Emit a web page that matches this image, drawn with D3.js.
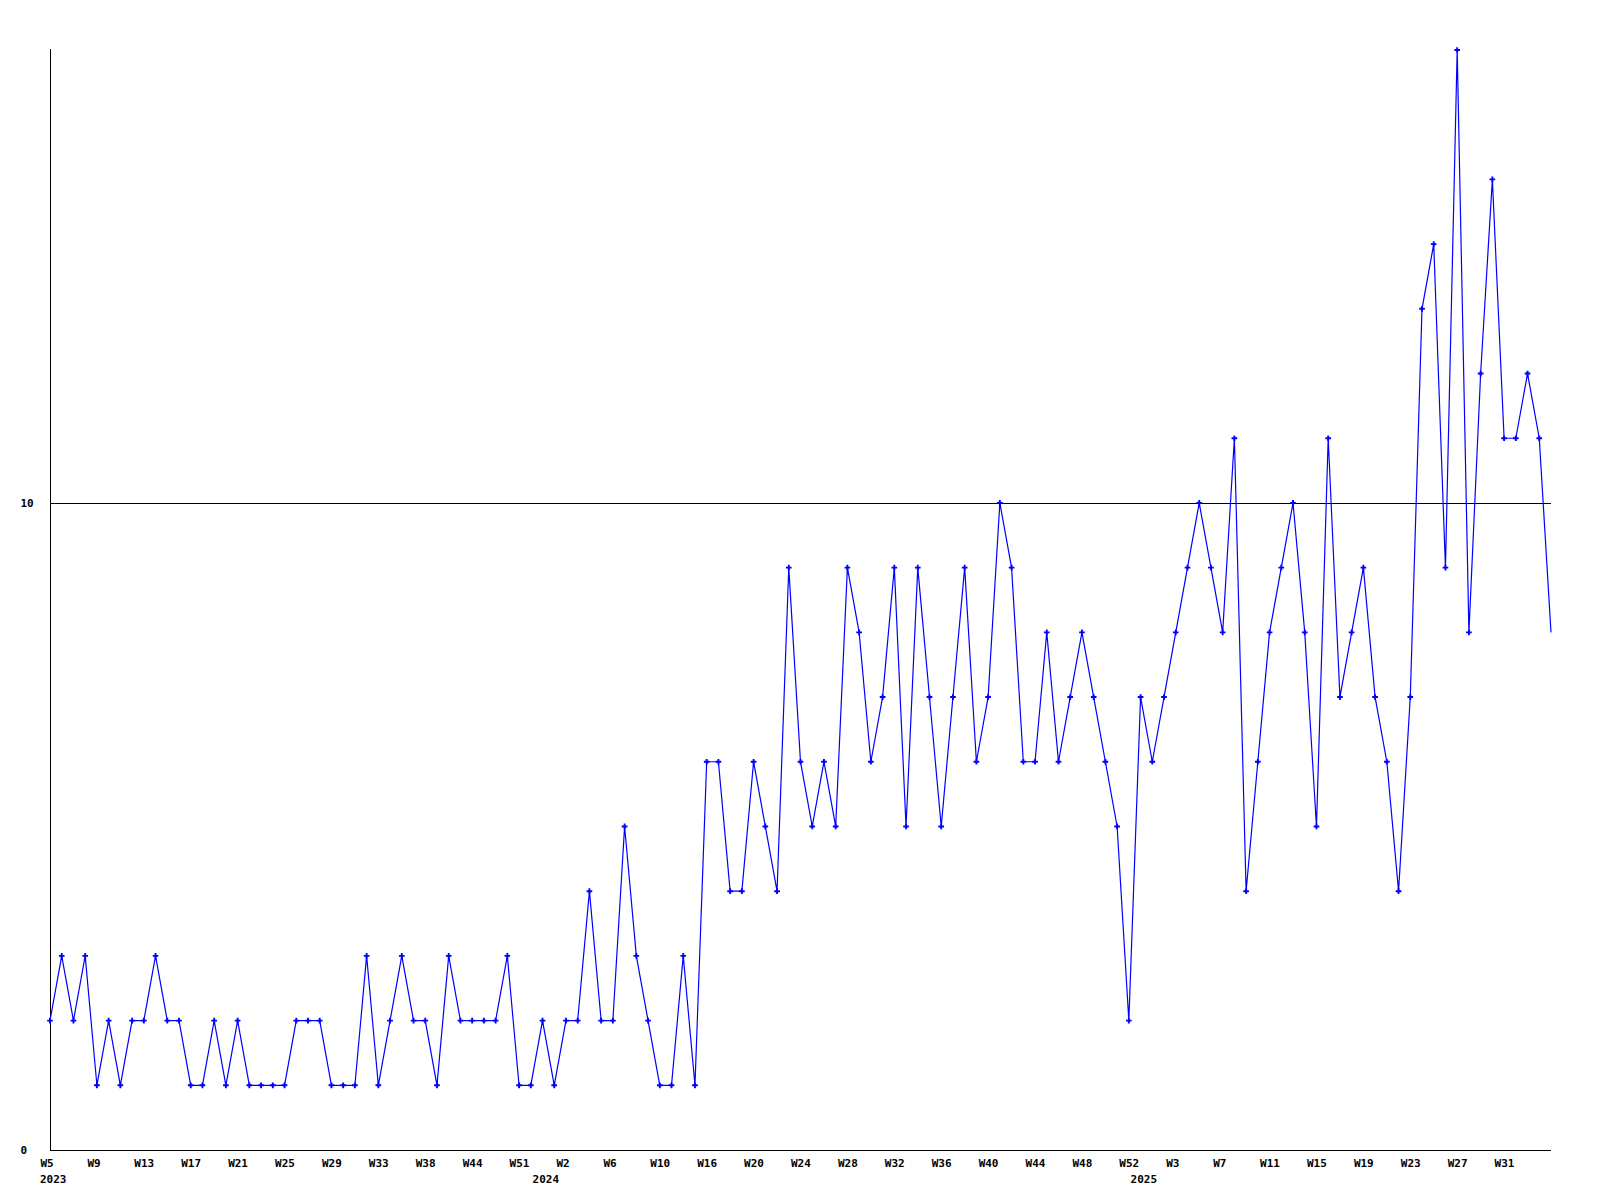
<!DOCTYPE html>
<html>
<head>
<meta charset="utf-8">
<script src="https://cdn.jsdelivr.net/npm/d3@7"></script>
<style>
  html, body { margin: 0; padding: 0; background: #ffffff; }
  svg { display: block; }
  text { font-family: "DejaVu Sans Mono", "Liberation Mono", monospace; font-weight: bold; font-size: 11px; fill: #000; }
</style>
</head>
<body>
<svg id="chart" width="1600" height="1200"></svg>
<script>
// ---- data ----
const weeks = [
  "2023-W5","2023-W6","2023-W7","2023-W8","2023-W9","2023-W10","2023-W11","2023-W12","2023-W13","2023-W14",
  "2023-W15","2023-W16","2023-W17","2023-W18","2023-W19","2023-W20","2023-W21","2023-W22","2023-W23","2023-W24",
  "2023-W25","2023-W26","2023-W27","2023-W28","2023-W29","2023-W30","2023-W31","2023-W32","2023-W33","2023-W34",
  "2023-W35","2023-W36","2023-W38","2023-W39","2023-W40","2023-W42","2023-W44","2023-W45","2023-W47","2023-W49",
  "2023-W51","2023-W52","2024-W0","2024-W1","2024-W2","2024-W3","2024-W4","2024-W5","2024-W6","2024-W7",
  "2024-W8","2024-W9","2024-W10","2024-W11","2024-W12","2024-W14","2024-W16","2024-W17","2024-W18","2024-W19",
  "2024-W20","2024-W21","2024-W22","2024-W23","2024-W24","2024-W25","2024-W26","2024-W27","2024-W28","2024-W29",
  "2024-W30","2024-W31","2024-W32","2024-W33","2024-W34","2024-W35","2024-W36","2024-W37","2024-W38","2024-W39",
  "2024-W40","2024-W41","2024-W42","2024-W43","2024-W44","2024-W45","2024-W46","2024-W47","2024-W48","2024-W49",
  "2024-W50","2024-W51","2024-W52","2025-W0","2025-W1","2025-W2","2025-W3","2025-W4","2025-W5","2025-W6",
  "2025-W7","2025-W8","2025-W9","2025-W10","2025-W11","2025-W12","2025-W13","2025-W14","2025-W15","2025-W16",
  "2025-W17","2025-W18","2025-W19","2025-W20","2025-W21","2025-W22","2025-W23","2025-W24","2025-W25","2025-W26",
  "2025-W27","2025-W28","2025-W29","2025-W30","2025-W31","2025-W32","2025-W33","2025-W34","2025-W35"
];
const counts = [
  2,3,2,3,1,2,1,2,2,3, 2,2,1,1,2,1,2,1,1,1, 1,2,2,2,1,1,1,3,1,2, 3,2,2,1,3,2,2,2,2,3,
  1,1,2,1,2,2,4,2,2,5, 3,2,1,1,3,1,6,6,4,4, 6,5,4,9,6,5,6,5,9,8, 6,7,9,5,9,7,5,7,9,6,
  7,10,9,6,6,8,6,7,8,7, 6,5,2,7,6,7,8,9,10,9, 8,11,4,6,8,9,10,8,5,11, 7,8,9,7,6,4,7,13,14,9,
  17,8,12,15,11,11,12,11,8
];
const yTickValues = [0, 10];
const yGridValues = [10];
const yMax = 17;
const tickEvery = 4;

// ---- layout ----
const svg = d3.select("#chart");
const plotLeft = 50, plotRight = 1551, plotTop = 50, plotBottom = 1150;
const data = weeks.map((w, i) => ({ week: w, value: counts[i] }));

const x = d3.scalePoint().domain(weeks).range([plotLeft, plotRight]);
const y = d3.scaleLinear().domain([0, yMax]).range([plotBottom, plotTop]);

// grid line at 10
svg.append("g").selectAll("line").data(yGridValues).join("line")
  .attr("x1", plotLeft).attr("x2", plotRight)
  .attr("y1", d => Math.round(y(d)) + 0.5).attr("y2", d => Math.round(y(d)) + 0.5)
  .attr("stroke", "#000").attr("stroke-width", 1);

// y axis
const yAxis = svg.append("g").attr("transform", `translate(${plotLeft + 0.5},0)`)
  .call(d3.axisLeft(y).tickValues(yTickValues).tickSize(0).tickFormat(d3.format("d")));
yAxis.select(".domain").attr("d", `M0,${plotTop - 1}V${plotBottom}`).attr("stroke", "#000");
yAxis.selectAll(".tick text").attr("x", 20 - plotLeft).attr("text-anchor", "start")
  .style("font-family", "'DejaVu Sans Mono', monospace").style("font-size", "11px").style("font-weight", "bold");

// x axis (every 4th week, the last point has no label)
const tickWeeks = weeks.filter((w, i) => i % tickEvery === 0 && i < weeks.length - 1);
const xAxis = svg.append("g").attr("transform", `translate(0,${plotBottom + 0.5})`)
  .call(d3.axisBottom(x).tickValues(tickWeeks).tickSize(0).tickFormat(w => w.split("-")[1]));
xAxis.select(".domain").attr("d", `M${plotLeft},0H${plotRight}`).attr("stroke", "#000");
xAxis.selectAll(".tick text").attr("y", 16).attr("dy", 0).attr("x", -10).attr("text-anchor", "start")
  .style("font-family", "'DejaVu Sans Mono', monospace").style("font-size", "11px").style("font-weight", "bold");

// year labels at first point of each year
const yearStarts = weeks.filter((w, i) => i === 0 || w.split("-")[0] !== weeks[i - 1].split("-")[0]);
svg.append("g").selectAll("text").data(yearStarts).join("text")
  .attr("x", d => x(d) - 10).attr("y", plotBottom + 33)
  .attr("text-anchor", "start")
  .text(d => d.split("-")[0]);

// line
const line = d3.line().x(d => x(d.week)).y(d => y(d.value));
svg.append("path").datum(data)
  .attr("fill", "none").attr("stroke", "#0000ff").attr("stroke-width", 1.2)
  .attr("d", line);

// markers (clipped before the right plot edge)
svg.append("clipPath").attr("id", "plotclip").append("rect")
  .attr("x", 0).attr("y", 0).attr("width", plotRight - 4).attr("height", 1200);
svg.append("g").attr("clip-path", "url(#plotclip)")
  .selectAll("path").data(data).join("path")
  .attr("transform", d => `translate(${x(d.week)},${y(d.value)})`)
  .attr("d", d3.symbol().type(d3.symbolCross).size(18))
  .attr("fill", "#0000ff");
</script>
</body>
</html>
